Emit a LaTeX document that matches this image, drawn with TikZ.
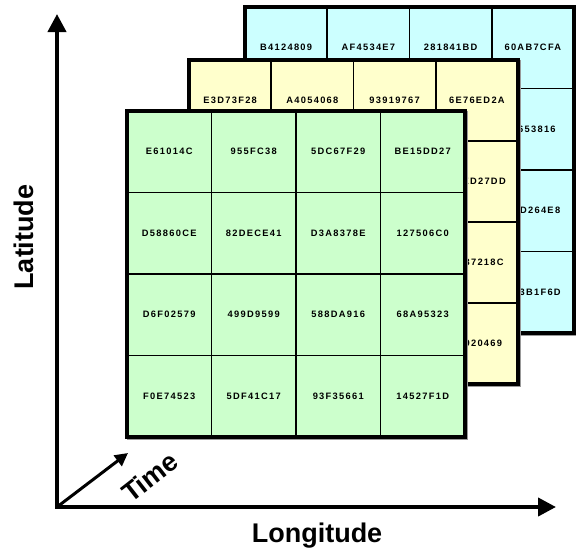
\documentclass[tikz,border=0pt]{standalone}
\usepackage{fontspec}
\setmainfont{Liberation Sans}
\newfontfamily\cellfont[LetterSpace=14]{Liberation Sans}
\usetikzlibrary{arrows.meta}
\definecolor{backfill}{HTML}{CCFFFF}
\definecolor{midfill}{HTML}{FFFFCC}
\definecolor{frontfill}{HTML}{CCFFCC}
\tikzset{
  cell/.style={font=\cellfont\bfseries\fontsize{9.3}{11}\selectfont, inner sep=0pt},
  gridline/.style={line width=1.6pt},
  frame/.style={line width=3.6pt, line join=miter},
  shadowframe/.style={line width=3.6pt, draw=black!40, line join=miter},
  axis/.style={line width=4pt, line join=miter,
    {Triangle[length=18pt,width=18pt]}-{Triangle[length=18pt,width=18pt]}},
  timeaxis/.style={line width=3pt, -{Triangle[length=13pt,width=13pt]}},
  axislabel/.style={font=\bfseries\fontsize{27}{30}\selectfont, inner sep=0pt},
}
% one 4x4 layer: name, left, top, column width, row height, fill, 16 labels
\newcommand\drawlayer[7]{%
  \begin{scope}[shift={(#2,#3)}]
    \draw[shadowframe] (1.5,1.5) rectangle ++(4*#4,4*#5);
    \fill[#6] (0,0) rectangle (4*#4,4*#5);
    \foreach \k in {1,2,3} {
      \draw[gridline] (\k*#4,0) -- (\k*#4,4*#5);
      \draw[gridline] (0,\k*#5) -- (4*#4,\k*#5);
    }
    \foreach \t [count=\i from 0] in {#7} {
      \pgfmathtruncatemacro\rw{\i/4}
      \pgfmathtruncatemacro\cl{mod(\i,4)}
      \node[cell] (#1-\rw-\cl) at ({(\cl+0.5)*#4},{(\rw+0.5)*#5}) {\t};
    }
    \draw[frame] (0,0) rectangle (4*#4,4*#5);
  \end{scope}
}
\begin{document}
\begin{tikzpicture}[x=1pt,y=-1pt]
  \useasboundingbox (0,0) rectangle (576,547);

  % time slices, back to front
  \drawlayer{back}{245}{7}{82.25}{81.5}{backfill}{
    B4124809,AF4534E7,281841BD,60AB7CFA,
    {},{},{},A653816,
    {},{},{},C0D264E8,
    {},{},{},D63B1F6D}
  \drawlayer{mid}{189}{60}{82.25}{81}{midfill}{
    E3D73F28,A4054068,93919767,6E76ED2A,
    {},{},{},A1ED27DD,
    {},{},{},9B37218C,
    {},{},{},58920469}
  \drawlayer{front}{127}{111}{84.5}{81.5}{frontfill}{
    E61014C,955FC38,5DC67F29,BE15DD27,
    D58860CE,82DECE41,D3A8378E,127506C0,
    D6F02579,499D9599,588DA916,68A95323,
    F0E74523,5DF41C17,93F35661,14527F1D}

  % axes
  \coordinate (origin) at (57,507);
  \coordinate (lattip) at (57,14);
  \coordinate (lontip) at (556,507);
  \coordinate (timetip) at (128,453);
  \draw[axis] (lattip) -- (origin) -- (lontip);
  \draw[timeaxis] (origin) -- (timetip);

  \node[axislabel, rotate=90] (latlabel) at (24,237) {Latitude};
  \node[axislabel, anchor=base] (lonlabel) at (317,542) {Longitude};
  \node[axislabel, rotate=38] (timelabel) at (150,477) {Time};
\end{tikzpicture}
\end{document}
